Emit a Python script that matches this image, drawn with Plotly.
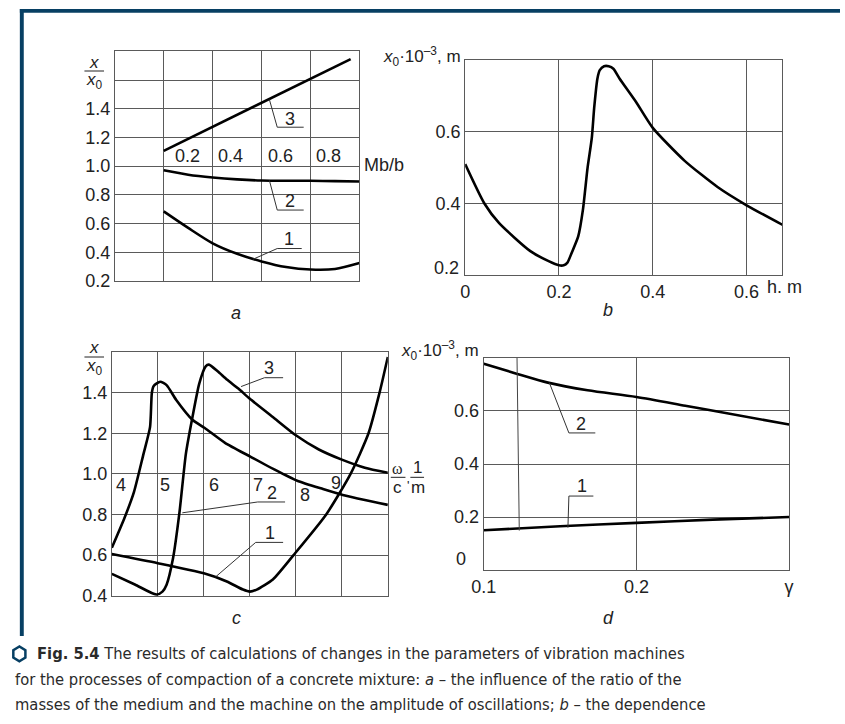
import plotly.graph_objects as go
import math

W, H = 845, 724
def px(x): return x / W
def py(y): return 1 - y / H

# ---------------- data ----------------
# panel a : X/X0 vs Mb/b
a_x3 = [0.2, 0.964]
a_y3 = [1.107, 1.745]
a_x = [0.2, 0.3, 0.4, 0.5, 0.6, 0.7, 0.8, 0.9, 1.0]
a_y2 = [0.971, 0.94, 0.921, 0.908, 0.900, 0.898, 0.898, 0.896, 0.893]
a_y1 = [0.685, 0.57, 0.463, 0.39, 0.337, 0.298, 0.28, 0.284, 0.325]

# panel b : x0*10^-3 vs h
b_x = [0.0, 0.041, 0.0725, 0.139, 0.178, 0.2, 0.21, 0.218, 0.227, 0.241, 0.251, 0.261,
       0.27, 0.275, 0.282, 0.287, 0.296, 0.306, 0.316, 0.329, 0.364, 0.4, 0.468, 0.538, 0.6, 0.677]
b_y = [0.51, 0.40, 0.345, 0.267, 0.239, 0.2275, 0.2275, 0.235, 0.262, 0.308, 0.382, 0.50,
       0.583, 0.666, 0.749, 0.772, 0.783, 0.783, 0.776, 0.749, 0.684, 0.611, 0.519, 0.446, 0.395, 0.34]

# panel c : X/X0 vs omega
c_x1 = [4.0, 5.0, 6.0, 6.5, 6.85, 7.0, 7.15, 7.5, 7.95, 8.66, 9.19, 9.58, 9.82, 10.0]
c_y1 = [0.605, 0.56, 0.51, 0.47, 0.43, 0.42, 0.43, 0.48, 0.6, 0.8, 1.0, 1.2, 1.4, 1.576]
c_x2 = [4.0, 4.27, 4.48, 4.69, 4.83, 4.87, 4.91, 5.05, 5.19, 5.4, 5.75, 6.02, 6.46, 7.01,
        7.52, 8.03, 8.59, 9.02, 10.0]
c_y2 = [0.636, 0.78, 0.91, 1.10, 1.23, 1.40, 1.433, 1.454, 1.437, 1.364, 1.267, 1.226, 1.153,
        1.085, 1.023, 0.966, 0.925, 0.896, 0.847]
c_x3 = [4.0, 4.5, 4.97, 5.1, 5.19, 5.33, 5.47, 5.61, 5.755, 5.9, 6.04, 6.11, 6.3, 6.5, 6.75,
        7.0, 7.5, 8.0, 8.5, 9.0, 9.5, 10.0]
c_y3 = [0.507, 0.455, 0.405, 0.42, 0.454, 0.584, 0.81, 1.10, 1.283, 1.445, 1.53, 1.538, 1.505,
        1.465, 1.42, 1.37, 1.28, 1.19, 1.12, 1.07, 1.03, 1.005]

# panel d : x0*10^-3 vs gamma
d_x2 = [0.1, 0.122, 0.142, 0.168, 0.2, 0.232, 0.253, 0.3]
d_y2 = [0.778, 0.74, 0.707, 0.678, 0.653, 0.62, 0.598, 0.549]
d_x1 = [0.1, 0.15, 0.2, 0.25, 0.3]
d_y1 = [0.15, 0.165, 0.178, 0.19, 0.2]

# tick labels
a_yticks = [0.2, 0.4, 0.6, 0.8, 1.0, 1.2, 1.4]
a_ytext = ["0.2", "0.4", "0.6", "0.8", "1.0", "1.2", "1.4"]
a_ygrid_extra = [1.6]
a_xlabels = ["0.2", "0.4", "0.6", "0.8"]
b_xticks = [0, 0.2, 0.4, 0.6]
b_xtext = ["0", "0.2", "0.4", "0.6"]
b_yticks = [0.4, 0.6]
b_ytext = ["0.4", "0.6"]
b_ylow = "0.2"
c_yticks = [0.4, 0.6, 0.8, 1.0, 1.2, 1.4]
c_ytext = ["0.4", "0.6", "0.8", "1.0", "1.2", "1.4"]
c_xlabels = ["4", "5", "6", "7", "8", "9"]
d_xticks = [0.1, 0.2, 0.3]
d_xtext = ["0.1", "0.2", "γ"]
d_yticks = [0.2, 0.4, 0.6]
d_ytext = ["0.2", "0.4", "0.6"]
d_ylow = "0"

caption = [
    "<b>Fig. 5.4</b> The results of calculations of changes in the parameters of vibration machines",
    "for the processes of compaction of a concrete mixture: <i>a</i> – the influence of the ratio of the",
    "masses of the medium and the machine on the amplitude of oscillations; <i>b</i> – the dependence",
]

# ---------------- figure ----------------
FONT = "Liberation Sans, Arial, sans-serif"
CAPFONT = "DejaVu Sans Condensed, Liberation Sans Narrow, sans-serif"
GRID = "#5a5a5a"
NAVY = "#073f63"
LW = 2.6

fig = go.Figure()
def curve(x, y, ax, smooth=0.8):
    fig.add_trace(go.Scatter(x=x, y=y, mode="lines", xaxis=ax[0], yaxis=ax[1],
                             line=dict(color="black", width=LW, shape="spline", smoothing=smooth),
                             showlegend=False, hoverinfo="skip"))

curve(a_x3, a_y3, ("x", "y"))
curve(a_x, a_y2, ("x", "y"))
curve(a_x, a_y1, ("x", "y"))
curve(b_x, b_y, ("x2", "y2"), 0.6)
curve(c_x1, c_y1, ("x3", "y3"), 0.6)
curve(c_x2, c_y2, ("x3", "y3"), 0.6)
curve(c_x3, c_y3, ("x3", "y3"), 0.6)
curve(d_x2, d_y2, ("x4", "y4"))
curve(d_x1, d_y1, ("x4", "y4"))

axbase = dict(showgrid=True, gridcolor=GRID, gridwidth=1, showline=True, linecolor=GRID,
              linewidth=1, mirror=True, zeroline=False, ticks="",
              tickfont=dict(family=FONT, size=18, color="#222"), fixedrange=True)

fig.update_layout(
    width=W, height=H, margin=dict(l=0, r=0, t=0, b=0),
    paper_bgcolor="white", plot_bgcolor="white", showlegend=False,
    xaxis=dict(axbase, domain=[px(104), px(354)], range=[0, 1], tickvals=[0.2, 0.4, 0.6, 0.8],
               showticklabels=False, anchor="y"),
    yaxis=dict(axbase, domain=[py(285), py(52)], range=[0.2, 1.8], tickvals=a_yticks, ticktext=a_ytext,
               minor=dict(tickvals=a_ygrid_extra, showgrid=True, gridcolor=GRID, gridwidth=1, ticks=""),
               anchor="x"),
    xaxis2=dict(axbase, domain=[px(462), px(786)], range=[0, 0.676], tickvals=b_xticks, ticktext=b_xtext,
                anchor="y2"),
    yaxis2=dict(axbase, domain=[py(279), py(61)], range=[0.2, 0.8], tickvals=b_yticks, ticktext=b_ytext,
                anchor="x2"),
    xaxis3=dict(axbase, domain=[px(101), px(383)], range=[4, 10], tickvals=[5, 6, 7, 8, 9],
                showticklabels=False, anchor="y3"),
    yaxis3=dict(axbase, domain=[py(604), py(357)], range=[0.4, 1.6], tickvals=c_yticks, ticktext=c_ytext,
                anchor="x3"),
    xaxis4=dict(axbase, domain=[px(481), px(793)], range=[0.1, 0.3], tickvals=d_xticks, ticktext=d_xtext,
                anchor="y4"),
    yaxis4=dict(axbase, domain=[py(578), py(363)], range=[0, 0.8], tickvals=d_yticks, ticktext=d_ytext,
                anchor="x4"),
)

ann = []
shapes = []
def txt(x, y, s, size=18, xanchor="center", family=FONT, color="#222"):
    ann.append(dict(x=x, y=y, xref="paper", yref="paper", text=s, showarrow=False, xanchor=xanchor,
                    yanchor="middle", font=dict(family=family, size=size, color=color)))
def ln(x0, y0, x1, y1, w=1, color="#333"):
    shapes.append(dict(type="line", x0=x0, y0=y0, x1=x1, y1=y1, xref="paper", yref="paper",
                       line=dict(color=color, width=w)))

# fraction labels X/X0
for (cx, ytop, ybar, ybot) in [(83, 63, 72, 82), (83, 352, 362, 372)]:
    txt(px(cx), py(ytop), "<i>x</i>", 17)
    ln(px(73), py(ybar), px(93), py(ybar), 1, "#222")
    txt(px(cx), py(ybot), "<i>x</i><sub>0</sub>", 17)

# panel a inner labels
for lab, xl in zip(a_xlabels, [163, 207, 258, 308]):
    txt(px(xl), py(158), lab, 18, "left")
txt(px(357), py(167), "Mb/b", 18, "left")
# leaders a
for lab, tx, ty, ux0, ux1, uy, lx, ly in [("3", 283, 121, 270, 297, 129, 262, 101),
                                         ("2", 283, 204, 270, 297, 213, 262, 183),
                                         ("1", 282, 242, 270, 295, 252, 245, 263)]:
    txt(px(tx), py(ty), lab, 18)
    ln(px(ux0), py(uy), px(ux1), py(uy))
    ln(px(ux0), py(uy), px(lx), py(ly))

# panel b labels
txt(px(460), py(57), "<i>x</i><sub>0</sub>·10<sup>–3</sup>, m", 17, "right")
txt(px(768), py(291), "h. m", 18, "left")
txt(px(458), py(272), b_ylow, 18, "right")

# panel c inner labels
for lab, xc, yc in zip(c_xlabels, [110, 155, 205, 250, 298, 330], [492, 492, 492, 492, 502, 490]):
    txt(px(xc), py(yc), lab, 18)
for lab, tx, ty, ux0, ux1, uy, lx, ly in [("3", 262, 373, 257, 276, 383, 233, 392),
                                         ("2", 265, 500, 250, 278, 509, 173, 520),
                                         ("1", 263, 540, 248, 276, 550, 207, 585)]:
    txt(px(tx), py(ty), lab, 18)
    ln(px(ux0), py(uy), px(ux1), py(uy))
    ln(px(ux0), py(uy), px(lx), py(ly))
# omega/c , 1/m
txt(px(393), py(475), "ω", 16, family="Liberation Serif, serif")
txt(px(413), py(474), "1", 17)
ln(px(386), py(484), px(401), py(484), 1, "#222")
ln(px(406), py(484), px(420), py(484), 1, "#222")
txt(px(393), py(494), "c", 17)
txt(px(404), py(492), "'", 13)
txt(px(414), py(494), "m", 17)

# panel d labels
txt(px(478), py(355), "<i>x</i><sub>0</sub>·10<sup>–3</sup>, m", 17, "right")
txt(px(451), py(567), d_ylow, 18, "left")
ln(px(515), py(363), px(517.3), py(538), 1, "#444")
for lab, tx, ty, ux0, ux1, uy, lx, ly in [("2", 580, 430, 568, 595, 439, 548, 388),
                                         ("1", 581, 493, 568, 593, 503, 567, 535)]:
    txt(px(tx), py(ty), lab, 18)
    ln(px(ux0), py(uy), px(ux1), py(uy))
    ln(px(ux0), py(uy), px(lx), py(ly))

# panel captions
for lab, xc, yc in [("a", 228, 317), ("b", 608, 314), ("c", 228, 627), ("d", 608, 627)]:
    txt(px(xc), py(yc), "<i>" + lab + "</i>", 18)

# figure caption
CAPSIZE = 16.4
txt(px(22), py(663), caption[0], CAPSIZE, "left", CAPFONT, "#2a2a2a")
txt(px(0), py(689), caption[1], CAPSIZE, "left", CAPFONT, "#2a2a2a")
txt(px(0), py(714), caption[2], CAPSIZE, "left", CAPFONT, "#2a2a2a")

# hexagon icon
cx, cy, r = 6.5, 663, 7.5
pts = [(cx + r * math.cos(math.radians(90 + 60 * k)) * 0.95, cy - r * math.sin(math.radians(90 + 60 * k)))
       for k in range(6)]
path = "M " + " L ".join(f"{px(x):.5f},{py(y):.5f}" for x, y in pts) + " Z"
shapes.append(dict(type="path", path=path, xref="paper", yref="paper",
                   line=dict(color=NAVY, width=2.5)))

# navy frame
shapes.append(dict(type="rect", x0=px(7), x1=px(845), y0=py(13), y1=py(9), xref="paper", yref="paper",
                   fillcolor=NAVY, line=dict(width=0)))
shapes.append(dict(type="rect", x0=px(7), x1=px(11), y0=py(645), y1=py(9), xref="paper", yref="paper",
                   fillcolor=NAVY, line=dict(width=0)))

fig.update_layout(annotations=ann, shapes=shapes)
fig.write_html("out.html", config={"displayModeBar": False},
               post_script="document.body.style.margin='0';document.body.style.overflow='hidden';")
